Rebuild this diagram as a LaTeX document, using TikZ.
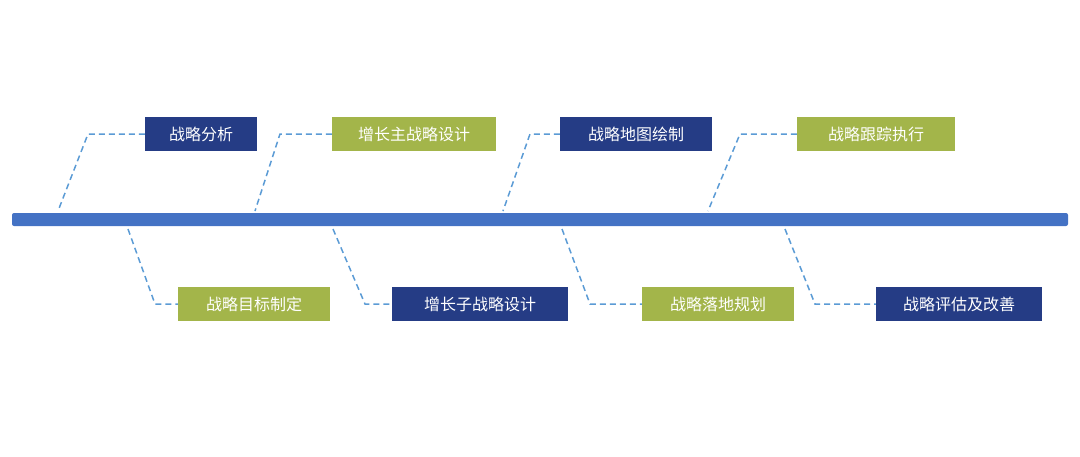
\documentclass[tikz,border=0pt]{standalone}
\usepackage{fontspec}
\newfontfamily\cjk{Noto Sans CJK SC}
\definecolor{dblue}{HTML}{253C85}
\definecolor{lgreen}{HTML}{A3B54A}
\definecolor{barblue}{HTML}{4472C4}
\definecolor{dashblue}{HTML}{5B9BD5}
\begin{document}
\begin{tikzpicture}[x=1pt,y=-1pt,
 conn/.style={draw=dashblue,line width=1.5pt,dash pattern=on 6pt off 4pt}]
\useasboundingbox (0,0) rectangle (1080,456);
\fill[barblue,rounded corners=2pt] (12,213) rectangle (1068,226);
\def\mkbox#1#2#3#4#5#6#7{\node[fill=#5,text=white,font=\cjk\fontsize{16}{16}\selectfont,minimum width=#3-#1,minimum height=#4-#2,inner sep=0pt] (#6) at ({(#1+#3)/2},{(#2+#4)/2}) {#7};}
\mkbox{145}{117}{257}{151}{dblue}{t1}{战略分析}
\mkbox{332}{117}{496}{151}{lgreen}{t2}{增长主战略设计}
\mkbox{560}{117}{712}{151}{dblue}{t3}{战略地图绘制}
\mkbox{797}{117}{955}{151}{lgreen}{t4}{战略跟踪执行}
\mkbox{178}{287}{330}{321}{lgreen}{b1}{战略目标制定}
\mkbox{392}{287}{568}{321}{dblue}{b2}{增长子战略设计}
\mkbox{642}{287}{794}{321}{lgreen}{b3}{战略落地规划}
\mkbox{876}{287}{1042}{321}{dblue}{b4}{战略评估及改善}
\coordinate (a1) at (58,211); \coordinate (a2) at (255,211);
\coordinate (a3) at (503,211); \coordinate (a4) at (708,211);
\coordinate (c1) at (128,229); \coordinate (c2) at (333,229);
\coordinate (c3) at (562,229); \coordinate (c4) at (785,229);
\draw[conn] (t1.west) -- (88,134) -- (a1);
\draw[conn] (t2.west) -- (280,134) -- (a2);
\draw[conn] (t3.west) -- (530,134) -- (a3);
\draw[conn] (t4.west) -- (740,134) -- (a4);
\draw[conn] (c1) -- (155,304) -- (b1.west);
\draw[conn] (c2) -- (365,304) -- (b2.west);
\draw[conn] (c3) -- (590,304) -- (b3.west);
\draw[conn] (c4) -- (815,304) -- (b4.west);
\end{tikzpicture}
\end{document}
